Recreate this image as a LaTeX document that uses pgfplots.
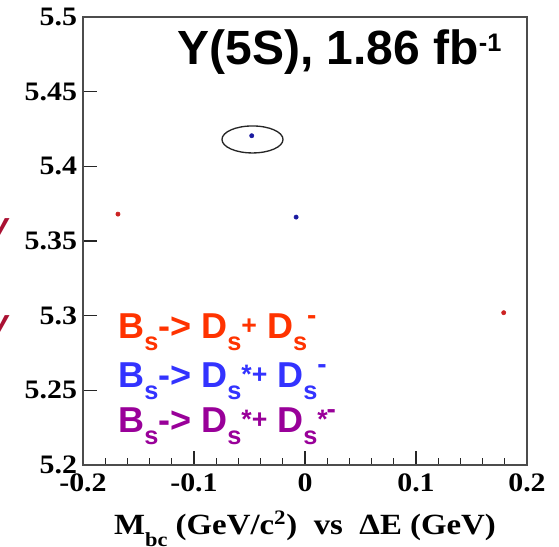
\documentclass[border=0pt]{standalone}
\usepackage{fontspec}
\setmainfont{Liberation Serif}
\newfontfamily\arial{Liberation Sans}
\usepackage{pgfplots}
\pgfplotsset{compat=1.18}
\definecolor{corange}{HTML}{FF3300}
\definecolor{cblue}{HTML}{3333FF}
\definecolor{cpurple}{HTML}{990099}
\definecolor{cvred}{HTML}{AA1133}
\definecolor{dotred}{HTML}{CC2222}
\definecolor{dotblue}{HTML}{1A1AA0}
\newcommand{\sub}[1]{\raisebox{-9pt}{\fontsize{19}{19}\selectfont #1}}
\newcommand{\supa}[1]{\raisebox{3pt}{\fontsize{20}{20}\selectfont #1}}
\newcommand{\supm}{\raisebox{10pt}{\fontsize{21}{21}\selectfont -}}
\newcommand{\tl}[1]{\scalebox{1.12}[1]{#1}}
\begin{document}
\begin{tikzpicture}
\begin{axis}[
  at={(0,0)}, anchor=south west,
  width=333pt, height=336pt, scale only axis,
  xmin=-0.2, xmax=0.2, ymin=5.2, ymax=5.5,
  xtick={-0.2,-0.1,0,0.1,0.2},
  xticklabels={\tl{-0.2},\tl{-0.1},\tl{0},\tl{0.1},\tl{0.2}},
  minor xtick={-0.18,-0.16,-0.14,-0.12,-0.08,-0.06,-0.04,-0.02,0.02,0.04,0.06,0.08,0.12,0.14,0.16,0.18},
  ytick={5.2,5.25,5.3,5.35,5.4,5.45,5.5},
  yticklabels={\tl{5.2},\tl{5.25},\tl{5.3},\tl{5.35},\tl{5.4},\tl{5.45},\tl{5.5}},
  tick align=inside, xtick pos=bottom, ytick pos=left,
  major tick length=10.5pt, minor tick length=5pt,
  axis line style={draw=black!70, line width=1pt},
  every tick/.style={black!85, line width=0.8pt},
  tick label style={font=\bfseries\fontsize{20}{20}\selectfont},
  xticklabel style={yshift=-3pt},
  yticklabel style={xshift=-1pt},
  xlabel={\scalebox{1.12}[1]{M\raisebox{-9pt}{\fontsize{15}{15}\selectfont bc} (GeV/c\textsuperscript{2})\ \ vs\ \ ΔE (GeV)}},
  xlabel style={at={(axis description cs:0.5,0)}, anchor=base, yshift=-52pt, font=\bfseries\fontsize{22}{22}\selectfont},
  clip=false,
]
\addplot[only marks, mark=*, mark size=1.6pt, color=dotred] coordinates {(-0.1685,5.368) (0.179,5.302)};
\addplot[only marks, mark=*, mark size=1.6pt, color=dotblue] coordinates {(-0.048,5.4205) (-0.008,5.366)};
\draw[line width=1pt, black!85] (axis cs:-0.0473,5.418) ellipse [x radius=0.0275, y radius=0.00904];
\end{axis}
\node[anchor=base east, inner sep=0pt] at (314pt,300pt) {\arial\bfseries\fontsize{36}{36}\selectfont Y(5S), 1.86 fb\raisebox{10pt}{\fontsize{19}{19}\selectfont -1}};
\node[anchor=base west, inner sep=0pt, text=corange] at (26.25pt,95.25pt) {\arial\bfseries\fontsize{27}{27}\selectfont B\sub{s}-> D\sub{s}\supa{+} D\sub{s}\supm};
\node[anchor=base west, inner sep=0pt, text=cblue] at (26.25pt,58.5pt) {\arial\bfseries\fontsize{27}{27}\selectfont B\sub{s}-> D\sub{s}\supa{*+} D\sub{s}\supm};
\node[anchor=base west, inner sep=0pt, text=cpurple] at (26.25pt,24.75pt) {\arial\bfseries\fontsize{27}{27}\selectfont B\sub{s}-> D\sub{s}\supa{*+} D\sub{s}\supa{*}\kern-1pt\supm};
\node[anchor=base east, inner sep=0pt, text=cvred] at (-56pt,172pt) {\arial\bfseries\itshape\fontsize{24}{24}\selectfont v};
\node[anchor=base east, inner sep=0pt, text=cvred] at (-56pt,99.75pt) {\arial\bfseries\itshape\fontsize{24}{24}\selectfont v};
\pgfresetboundingbox
\useasboundingbox (-62.25pt,-60.75pt) rectangle (357pt,348.75pt);
\end{tikzpicture}
\end{document}
